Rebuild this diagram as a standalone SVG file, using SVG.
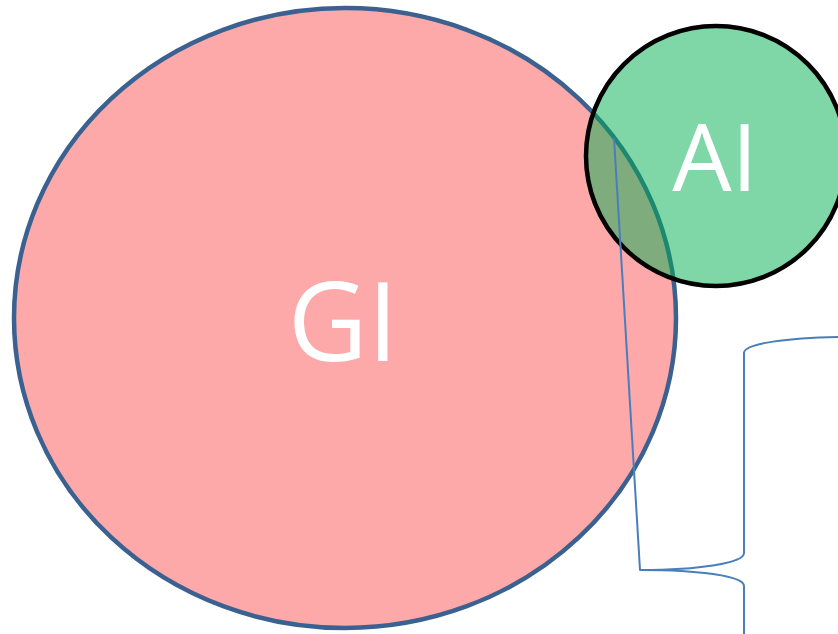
<svg xmlns="http://www.w3.org/2000/svg" width="838" height="634" viewBox="0 0 838 634">
  <style>
    .label { fill: #ffffff; font-family: "Open Sans", "Liberation Sans", sans-serif; text-anchor: middle; }
    .conn { fill: none; stroke: #4a7ebb; stroke-width: 2; stroke-linejoin: round; }
  </style>
  <rect width="838" height="634" fill="#ffffff"/>
  <g id="node-gi">
    <ellipse cx="345" cy="318" rx="331" ry="310" fill="#fda9a9" stroke="#3b6190" stroke-width="4.5"/>
    <text class="label" x="343" y="361" font-size="110">GI</text>
  </g>
  <g id="node-ai">
    <circle cx="716" cy="156" r="130" fill="#00b050" fill-opacity="0.5" stroke="#000000" stroke-width="4.5"/>
    <text class="label" x="715" y="191" font-size="94">AI</text>
  </g>
  <g id="connectors">
    <path class="conn" d="M 614 138 L 640 570"/>
    <path class="conn" d="M 838 337 C 790 338, 744 343, 744 353 L 744 553 C 744 563, 700 570, 640 570 C 700 570, 744 576, 744 586 L 744 634"/>
  </g>
</svg>
